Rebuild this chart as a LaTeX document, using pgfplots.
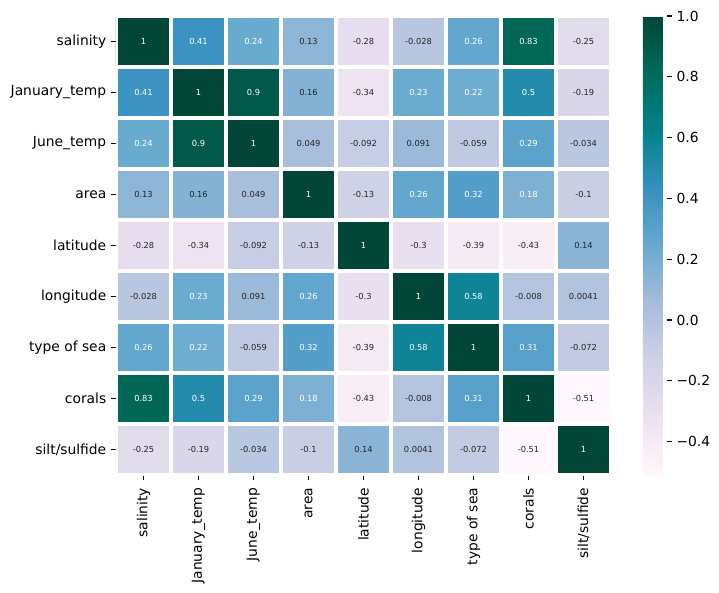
\documentclass[border=0pt]{standalone}
\usepackage{pgfplots}
\pgfplotsset{compat=1.18}
\usepackage{pgfplotstable}
\usepackage{fontspec}
\setmainfont{DejaVu Sans}
\definecolor{darktext}{HTML}{262626}
\pgfplotstableread{
x y c w
0 0 1 1
1 0 0.41 1
2 0 0.24 1
3 0 0.13 0
4 0 -0.28 0
5 0 -0.028 0
6 0 0.26 1
7 0 0.83 1
8 0 -0.25 0
0 1 0.41 1
1 1 1 1
2 1 0.9 1
3 1 0.16 0
4 1 -0.34 0
5 1 0.23 1
6 1 0.22 1
7 1 0.5 1
8 1 -0.19 0
0 2 0.24 1
1 2 0.9 1
2 2 1 1
3 2 0.049 0
4 2 -0.092 0
5 2 0.091 0
6 2 -0.059 0
7 2 0.29 1
8 2 -0.034 0
0 3 0.13 0
1 3 0.16 0
2 3 0.049 0
3 3 1 1
4 3 -0.13 0
5 3 0.26 1
6 3 0.32 1
7 3 0.18 1
8 3 -0.1 0
0 4 -0.28 0
1 4 -0.34 0
2 4 -0.092 0
3 4 -0.13 0
4 4 1 1
5 4 -0.3 0
6 4 -0.39 0
7 4 -0.43 0
8 4 0.14 0
0 5 -0.028 0
1 5 0.23 1
2 5 0.091 0
3 5 0.26 1
4 5 -0.3 0
5 5 1 1
6 5 0.58 1
7 5 -0.008 0
8 5 0.0041 0
0 6 0.26 1
1 6 0.22 1
2 6 -0.059 0
3 6 0.32 1
4 6 -0.39 0
5 6 0.58 1
6 6 1 1
7 6 0.31 1
8 6 -0.072 0
0 7 0.83 1
1 7 0.5 1
2 7 0.29 1
3 7 0.18 1
4 7 -0.43 0
5 7 -0.008 0
6 7 0.31 1
7 7 1 1
8 7 -0.51 0
0 8 -0.25 0
1 8 -0.19 0
2 8 -0.034 0
3 8 -0.1 0
4 8 0.14 0
5 8 0.0041 0
6 8 -0.072 0
7 8 -0.51 0
8 8 1 1
}\corr
\begin{document}
\begin{tikzpicture}
\useasboundingbox (-83.52bp,-84.6bp) rectangle (434.16bp,342.02bp);
\begin{axis}[
  name=ax, at={(0,0)}, anchor=south west,
  scale only axis, width=356.4bp, height=330.5bp,
  xmin=-0.5, xmax=8.5, ymin=-0.5, ymax=8.5, y dir=reverse,
  enlargelimits=false,
  axis line style={draw=none},
  xtick={0,...,8}, ytick={0,...,8},
  xticklabels={salinity,January\_temp,June\_temp,area,latitude,longitude,type of sea,corals,silt/sulfide},
  yticklabels={salinity,January\_temp,June\_temp,area,latitude,longitude,type of sea,corals,silt/sulfide},
  xticklabel style={rotate=90, anchor=east},
  xticklabel shift=2.2bp,
  xtick pos=left, ytick pos=left,
  tick align=outside, major tick length=3.5bp,
  tick style={black, line width=0.8bp},
  tick label style={font=\fontsize{10}{12}\selectfont, black},
  colormap={pubugn}{rgb255=(255,247,251) rgb255=(236,226,240) rgb255=(208,209,230) rgb255=(166,189,219) rgb255=(103,169,207) rgb255=(54,144,192) rgb255=(2,129,138) rgb255=(1,108,89) rgb255=(1,70,54)},
  point meta min=-0.51, point meta max=1.0,
  unbounded coords=discard,
  colorbar,
  colorbar style={
    at={(parent axis.north east)}, anchor=north west, xshift=14.4bp,
    width=17.3bp,
    axis line style={draw=none},
    ytick={-0.4,-0.2,0,0.2,0.4,0.6,0.8,1.0},
    yticklabels={−0.4,−0.2,0.0,0.2,0.4,0.6,0.8,1.0},
    ytick pos=right, yticklabel pos=right,
    tick align=outside, major tick length=3.5bp,
    ytick style={black, line width=0.8bp},
    yticklabel style={font=\fontsize{10}{12}\selectfont, black},
  },
]
\addplot[matrix plot*, mesh/cols=9, point meta=\thisrow{c}, shader=faceted, faceted color=white, line width=2.8bp] table[x=x, y=y] {\corr};
\addplot[only marks, mark=none,
  point meta=explicit symbolic,
  y filter/.expression={\thisrow{w}>0.5 ? y : nan},
  nodes near coords,
  nodes near coords style={anchor=center, font=\fontsize{6}{7}\selectfont, text=white, inner sep=0pt}]
  table[x=x, y=y, meta=c] {\corr};
\addplot[only marks, mark=none,
  point meta=explicit symbolic,
  y filter/.expression={\thisrow{w}<0.5 ? y : nan},
  nodes near coords,
  nodes near coords style={anchor=center, font=\fontsize{6}{7}\selectfont, text=darktext, inner sep=0pt}]
  table[x=x, y=y, meta=c] {\corr};
\end{axis}
\end{tikzpicture}
\end{document}
